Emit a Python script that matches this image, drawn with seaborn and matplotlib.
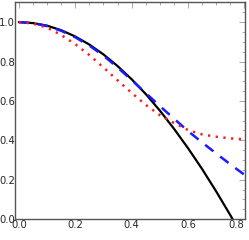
import matplotlib
matplotlib.use("Agg")
import matplotlib.pyplot as plt
from matplotlib.ticker import MultipleLocator
import seaborn as sns

x_vals = [0.0, 0.05, 0.1, 0.15, 0.2, 0.25, 0.3, 0.35, 0.4,
          0.45, 0.5, 0.55, 0.6, 0.65, 0.7, 0.75, 0.8]
black_vals = [1.0, 0.995, 0.982, 0.959, 0.927, 0.886, 0.836, 0.777, 0.71,
              0.635, 0.551, 0.459, 0.36, 0.254, 0.14, 0.02, -0.106]
blue_vals = [1.0, 0.995, 0.98, 0.956, 0.923, 0.881, 0.83, 0.77, 0.706,
             0.64, 0.574, 0.51, 0.447, 0.389, 0.333, 0.278, 0.225]
red_vals = [1.0, 0.993, 0.972, 0.935, 0.888, 0.833, 0.77, 0.705, 0.641,
            0.58, 0.528, 0.488, 0.452, 0.43, 0.418, 0.41, 0.405]

x_ticks = [0.0, 0.2, 0.4, 0.6, 0.8]
y_ticks = [0.0, 0.2, 0.4, 0.6, 0.8, 1.0]

sns.set_style("white")
plt.rcParams["font.family"] = ["DejaVu Sans"]
plt.rcParams["font.stretch"] = "condensed"

fig = plt.figure(figsize=(2.49, 2.40), dpi=100)
ax = fig.add_axes([0.062, 0.087, 0.922, 0.903])

sns.lineplot(x=x_vals, y=black_vals, ax=ax, color="black", linewidth=1.6)
sns.lineplot(x=x_vals, y=blue_vals, ax=ax, color="#1a1aff", linewidth=1.8,
             linestyle=(0, (4.2, 3.4)))
sns.lineplot(x=x_vals, y=red_vals, ax=ax, color="#ff1a1a", linewidth=1.8,
             linestyle=(0, (0.9, 2.2)))

ax.set_xlim(-0.012, 0.802)
ax.set_ylim(0, 1.1)

ax.set_xticks(x_ticks)
ax.set_xticklabels([f"{t:.1f}" for t in x_ticks])
ax.set_yticks(y_ticks)
ax.set_yticklabels([f"{t:.1f}" for t in y_ticks])
ax.xaxis.set_minor_locator(MultipleLocator(0.05))
ax.yaxis.set_minor_locator(MultipleLocator(0.05))

# keep the last x label inside the picture
ax.get_xticklabels()[-1].set_horizontalalignment("right")

ax.tick_params(which="both", direction="in", top=True, right=True,
               color="#999999", width=0.6, labelsize=8, pad=0.3)
ax.tick_params(which="major", length=4)
ax.tick_params(which="minor", length=2)

for sp in ax.spines.values():
    sp.set_color("#555555")
    sp.set_linewidth(1.0)

fig.savefig("out.png", dpi=100)
